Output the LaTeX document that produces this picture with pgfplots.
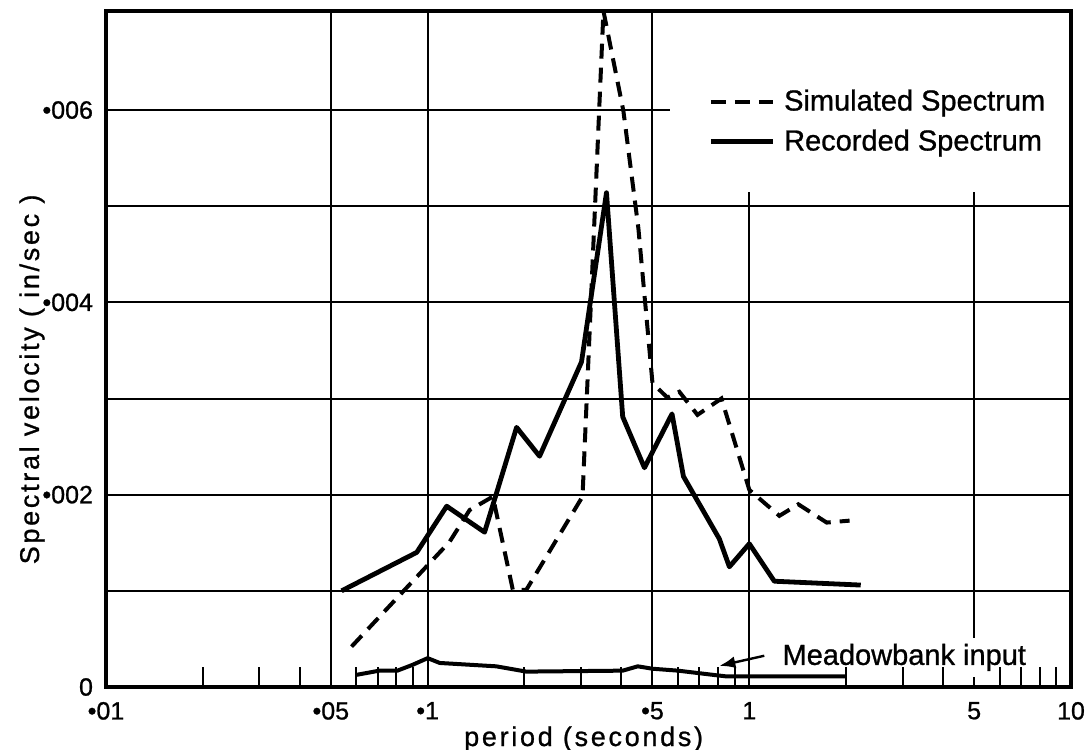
\documentclass[border=0pt]{standalone}
\usepackage{pgfplots}
\pgfplotsset{compat=1.18}
\usepackage{fontspec}
\setmainfont{Liberation Sans}
\usetikzlibrary{arrows.meta}

\newcommand\tickfont{\fontsize{12.5bp}{14bp}\selectfont\addfontfeature{FakeBold=0.9}}
\newcommand\legfont{\fontsize{14.5bp}{17bp}\selectfont\addfontfeature{FakeBold=0.9}}
\newcommand\labfont{\fontsize{13.5bp}{16bp}\selectfont\addfontfeature{LetterSpace=10,FakeBold=0.9}}

\begin{document}
\begin{tikzpicture}
\useasboundingbox (-53bp,-31.5bp) rectangle (490bp,343.5bp);
\begin{axis}[
    xmode=log,
    scale only axis,
    width=482.5bp, height=338bp,
    xmin=0.01, xmax=10,
    ymin=0, ymax=0.00703,
    axis line style={line width=1.8bp},
    xtick={0.01,0.05,0.1,0.5,1,5,10},
    xticklabels={•01,•05,•1,•5,1,5,10},
    minor xtick={0.02,0.03,0.04,0.06,0.07,0.08,0.09,0.2,0.3,0.4,0.6,0.7,0.8,0.9,2,3,4,6,7,8,9},
    ytick={0,0.002,0.004,0.006},
    yticklabels={0,•002,•004,•006},
    scaled y ticks=false,
    major tick length=0pt,
    minor tick length=10bp,
    every minor tick/.append style={black, line width=1bp},
    xtick pos=lower, ytick pos=left, tick align=inside,
    tick label style={font=\tickfont},
    xticklabel style={yshift=-4bp},
    yticklabel style={xshift=-3bp},
    xlabel={period (seconds)},
    ylabel={Spectral velocity ( in/sec )},
    xlabel style={font=\labfont, at={(axis description cs:0.495,-0.0873)}, anchor=base},
    ylabel style={font=\labfont, at={(axis description cs:-0.0767,0.455)}, anchor=center},
    legend style={draw=none, fill=none, inner sep=0pt, font=\legfont,
        at={(rel axis cs:0.6238,0.8365)}, anchor=west,
        row sep=8bp, column sep=4.5bp,
        nodes={inner sep=0pt}},
    legend cell align=left,
    legend image code/.code={\draw[#1] (0bp,0bp) -- (31bp,0bp);},
]

% grid, drawn by hand because the legend corner is left open
\draw[line width=1bp] (axis cs:0.01,0.001) -- (axis cs:10,0.001);
\draw[line width=1bp] (axis cs:0.01,0.002) -- (axis cs:10,0.002);
\draw[line width=1bp] (axis cs:0.01,0.003) -- (axis cs:10,0.003);
\draw[line width=1bp] (axis cs:0.01,0.004) -- (axis cs:10,0.004);
\draw[line width=1bp] (axis cs:0.01,0.005) -- (axis cs:10,0.005);
\draw[line width=1bp] (axis cs:0.01,0.006) -- (axis cs:0.565,0.006);
\draw[line width=1bp] (axis cs:0.05,0) -- (axis cs:0.05,0.00703);
\draw[line width=1bp] (axis cs:0.1,0) -- (axis cs:0.1,0.00703);
\draw[line width=1bp] (axis cs:0.5,0) -- (axis cs:0.5,0.00703);
\draw[line width=1bp] (axis cs:1,0) -- (axis cs:1,0.00515);
\draw[line width=1bp] (axis cs:5,0.00051) -- (axis cs:5,0.00515);
\draw[line width=1bp] (axis cs:5,0) -- (axis cs:5,0.0001);

% simulated spectrum
\addplot[black, line width=2bp, dash pattern=on 7.5bp off 4.5bp]
coordinates { (0.058,0.00042) (0.117,0.00151) (0.135,0.00184) (0.1595,0.00198)
  (0.184,0.00101) (0.2026,0.00101) (0.303,0.00198) (0.352,0.00703)
  (0.406,0.00599) (0.452,0.00477) (0.5,0.00316) (0.556,0.00301)
  (0.606,0.00307) (0.690,0.00283) (0.819,0.00300) (1.0,0.00205)
  (1.24,0.00178) (1.42,0.00190) (1.74,0.00171) (2.05,0.00173) };

% recorded spectrum
\addplot[black, line width=2.4bp, line join=round]
coordinates { (0.054,0.00100) (0.0925,0.00140) (0.1146,0.00188) (0.1503,0.00161)
  (0.189,0.00270) (0.2228,0.00240) (0.3008,0.00338) (0.3597,0.00514)
  (0.404,0.00281) (0.472,0.00228) (0.575,0.00284) (0.624,0.00219)
  (0.807,0.00154) (0.867,0.00125) (1.0,0.00149) (1.196,0.00110)
  (2.22,0.00106) };

% Meadowbank input
\addplot[black, line width=2bp, line join=round, forget plot]
coordinates { (0.060,0.000126) (0.0708,0.00017) (0.0805,0.00017) (0.0897,0.00023)
  (0.100,0.00030) (0.109,0.00025) (0.1634,0.000215) (0.2026,0.00016)
  (0.404,0.00017) (0.45,0.000215) (0.5,0.00019) (0.6,0.00017)
  (0.80,0.00012) (0.85,0.00011) (2.0,0.00011) };

\draw[line width=1.2bp, -{Latex[length=8bp,width=6bp]}] (axis cs:1.113,0.000325) -- (axis cs:0.807,0.00022);
\node[anchor=base west, inner sep=0pt, font=\legfont] at (axis cs:1.265,0.00023) {Meadowbank input};

\legend{Simulated Spectrum, Recorded Spectrum}
\end{axis}
\end{tikzpicture}
\end{document}
